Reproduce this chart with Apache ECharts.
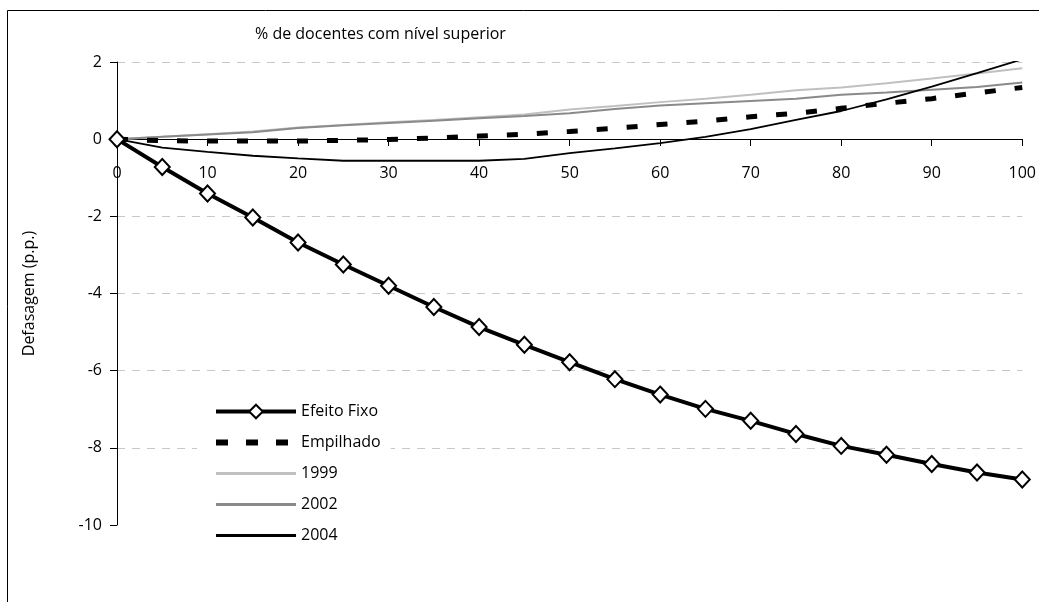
<!DOCTYPE html>
<html><head><meta charset="utf-8">
<script src="https://cdn.jsdelivr.net/npm/echarts@6/dist/echarts.min.js"></script>
<style>html,body{margin:0;padding:0;background:#fff}#c{width:1039px;height:602px}</style>
</head><body><div id="c"></div>
<script>
const xValues = [0,5,10,15,20,25,30,35,40,45,50,55,60,65,70,75,80,85,90,95,100];
const efeitoFixo = [0,-0.72,-1.41,-2.03,-2.68,-3.25,-3.80,-4.35,-4.87,-5.33,-5.78,-6.22,-6.62,-6.99,-7.30,-7.64,-7.95,-8.18,-8.42,-8.64,-8.82];
const empilhado = [0,-0.04,-0.05,-0.05,-0.05,-0.03,-0.01,0.03,0.08,0.13,0.20,0.28,0.38,0.47,0.58,0.67,0.80,0.93,1.05,1.20,1.34];
const s1999 = [0,0.06,0.13,0.20,0.30,0.37,0.44,0.50,0.57,0.64,0.77,0.86,0.96,1.05,1.15,1.27,1.34,1.45,1.57,1.70,1.84];
const s2002 = [0,0.06,0.12,0.18,0.29,0.36,0.42,0.48,0.54,0.60,0.67,0.78,0.87,0.93,0.99,1.05,1.15,1.21,1.28,1.35,1.47];
const s2004 = [0,-0.22,-0.33,-0.43,-0.50,-0.56,-0.56,-0.56,-0.56,-0.51,-0.36,-0.24,-0.10,0.06,0.26,0.50,0.73,1.03,1.36,1.71,2.07];
const xTicks = [0,10,20,30,40,50,60,70,80,90,100];
const yTicks = [-10,-8,-6,-4,-2,0,2];
const titleText = '% de docentes com nível superior';
const yName = 'Defasagem (p.p.)';

const pair = arr => xValues.map((x,i)=>[x,arr[i]]);
const FONT = '"Open Sans", sans-serif';
const chart = echarts.init(document.getElementById('c'), null, {renderer:'canvas'});
chart.setOption({
  animation:false,
  backgroundColor:'#fff',
  graphic:[{type:'rect',shape:{x:7.5,y:10.5,width:1100,height:700},style:{fill:'none',stroke:'#000',lineWidth:1},silent:true,z:-10}],
  title:{text:titleText,left:250,top:21,textStyle:{fontFamily:FONT,fontSize:16,fontWeight:'normal',color:'#000'}},
  grid:{left:117,right:12,top:62,bottom:77,containLabel:false},
  legend:{
    orient:'vertical',left:197,top:392,padding:[11,10,11,16],backgroundColor:'#fff',
    itemWidth:80,itemHeight:17,itemGap:14,
    data:[
      {name:'Efeito Fixo',lineStyle:{width:4},itemStyle:{borderWidth:2}},
      {name:'Empilhado',lineStyle:{width:6,type:[12,18]},itemStyle:{opacity:0}},
      {name:'1999',lineStyle:{width:3},itemStyle:{opacity:0}},
      {name:'2002',lineStyle:{width:3},itemStyle:{opacity:0}},
      {name:'2004',lineStyle:{width:3},itemStyle:{opacity:0}}
    ],
    textStyle:{fontFamily:FONT,fontSize:16,color:'#000',height:17,lineHeight:17}
  },
  xAxis:{
    type:'value',min:0,max:100,interval:10,position:'bottom',offset:-386,
    axisLine:{onZero:false,lineStyle:{color:'#000',width:1}},
    axisTick:{show:true,inside:false,length:7,lineStyle:{color:'#000'}},
    axisLabel:{color:'#000',fontFamily:FONT,fontSize:16,margin:26,formatter:v=>xTicks.includes(v)?String(v):''},
    splitLine:{show:false}
  },
  yAxis:{
    type:'value',min:-10,max:2,interval:2,
    name:yName,nameLocation:'middle',nameGap:80,
    nameTextStyle:{fontFamily:FONT,fontSize:16,color:'#000'},
    axisLine:{show:true,lineStyle:{color:'#000',width:1}},
    axisTick:{show:true,length:7,lineStyle:{color:'#000'}},
    axisLabel:{color:'#000',fontFamily:FONT,fontSize:16,margin:15,formatter:v=>yTicks.includes(v)?String(v):''},
    splitLine:{show:true,lineStyle:{type:[8,7],width:1,color:['rgba(0,0,0,0)','#c8c8c8','#c8c8c8','#c8c8c8','#c8c8c8','rgba(0,0,0,0)','#c8c8c8']}}
  },
  series:[
    {name:'1999',type:'line',data:pair(s1999),symbol:'none',z:2,lineStyle:{color:'#c0c0c0',width:2},itemStyle:{color:'#c0c0c0'}},
    {name:'2002',type:'line',data:pair(s2002),symbol:'none',z:3,lineStyle:{color:'#8a8a8a',width:2},itemStyle:{color:'#8a8a8a'}},
    {name:'2004',type:'line',data:pair(s2004),symbol:'none',z:4,lineStyle:{color:'#000',width:1.8},itemStyle:{color:'#000'}},
    {name:'Empilhado',type:'line',data:pair(empilhado),symbol:'none',z:5,lineStyle:{color:'#000',width:5,type:[11,19]},itemStyle:{color:'#000'}},
    {name:'Efeito Fixo',type:'line',data:pair(efeitoFixo),symbol:'diamond',symbolSize:[15,16],z:6,
     lineStyle:{color:'#000',width:4},itemStyle:{color:'#fff',borderColor:'#000',borderWidth:2}}
  ]
});
</script></body></html>
